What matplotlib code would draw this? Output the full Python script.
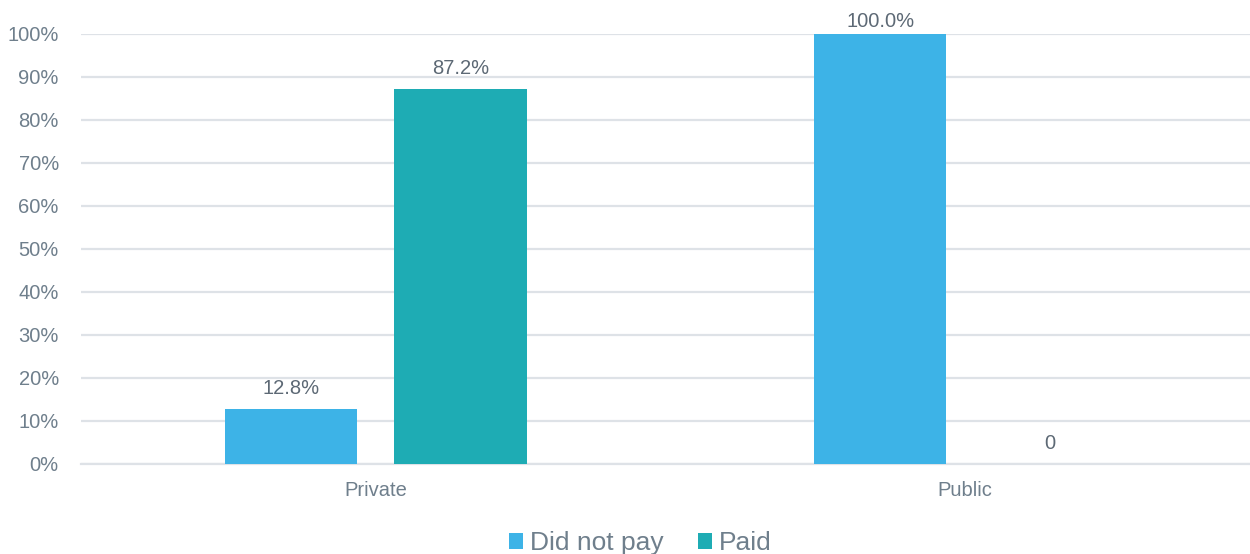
import numpy as np
import matplotlib
matplotlib.use("Agg")
import matplotlib.pyplot as plt
from matplotlib.ticker import PercentFormatter

plt.rcParams['font.family'] = ['Liberation Sans', 'DejaVu Sans']

categories = ["Private", "Public"]
series_names = ["Did not pay", "Paid"]
did_not_pay = [12.8, 100.0]
paid = [87.2, 0.0]
colors = ["#3DB3E7", "#1EACB4"]

tick_color = "#6F7F8C"
label_color = "#5D6975"
grid_color = "#DEE2E7"

fig = plt.figure(figsize=(12.5, 5.54), dpi=100)
ax = fig.add_axes([0.0648, 0.1625, 0.943, 0.7762])

x = np.arange(len(categories))
width = 0.225
offset = 0.144

for vals, name, color, shift in zip([did_not_pay, paid], series_names, colors, [-offset, offset]):
    bars = ax.bar(x + shift, vals, width, color=color, label=name, zorder=3)
    for rect, v in zip(bars, vals):
        text = "0" if v == 0 else f"{v:.1f}%"
        # the full-height bar gets its label squeezed under the top edge
        pad = 2 if v >= 100 else 8
        ax.annotate(text, (rect.get_x() + rect.get_width() / 2, v),
                    xytext=(0, pad), textcoords="offset points",
                    ha="center", va="bottom", fontsize=14.5, color=label_color)

ax.set_xlim(-0.5, 1.5)
ax.set_ylim(0, 100)
ax.set_yticks(np.arange(0, 101, 10))
ax.yaxis.set_major_formatter(PercentFormatter(decimals=0))
ax.set_xticks(x)
ax.set_xticklabels(categories)

ax.grid(axis="y", color=grid_color, linewidth=1.6, zorder=0)
ax.tick_params(axis="both", length=0, labelsize=14.5, colors=tick_color)
ax.tick_params(axis="x", pad=12, labelsize=14.5)
ax.tick_params(axis="y", pad=16)
for side in ["top", "right", "left"]:
    ax.spines[side].set_visible(False)
ax.spines["bottom"].set_color(grid_color)
ax.spines["bottom"].set_linewidth(1.6)

leg = fig.legend(loc="lower center", ncol=2, frameon=False, fontsize=19,
                 bbox_to_anchor=(0.512, -0.045), handlelength=0.55, handleheight=0.55,
                 handletextpad=0.25, columnspacing=1.3)
for t in leg.get_texts():
    t.set_color(tick_color)

fig.savefig("out.png", dpi=100)
